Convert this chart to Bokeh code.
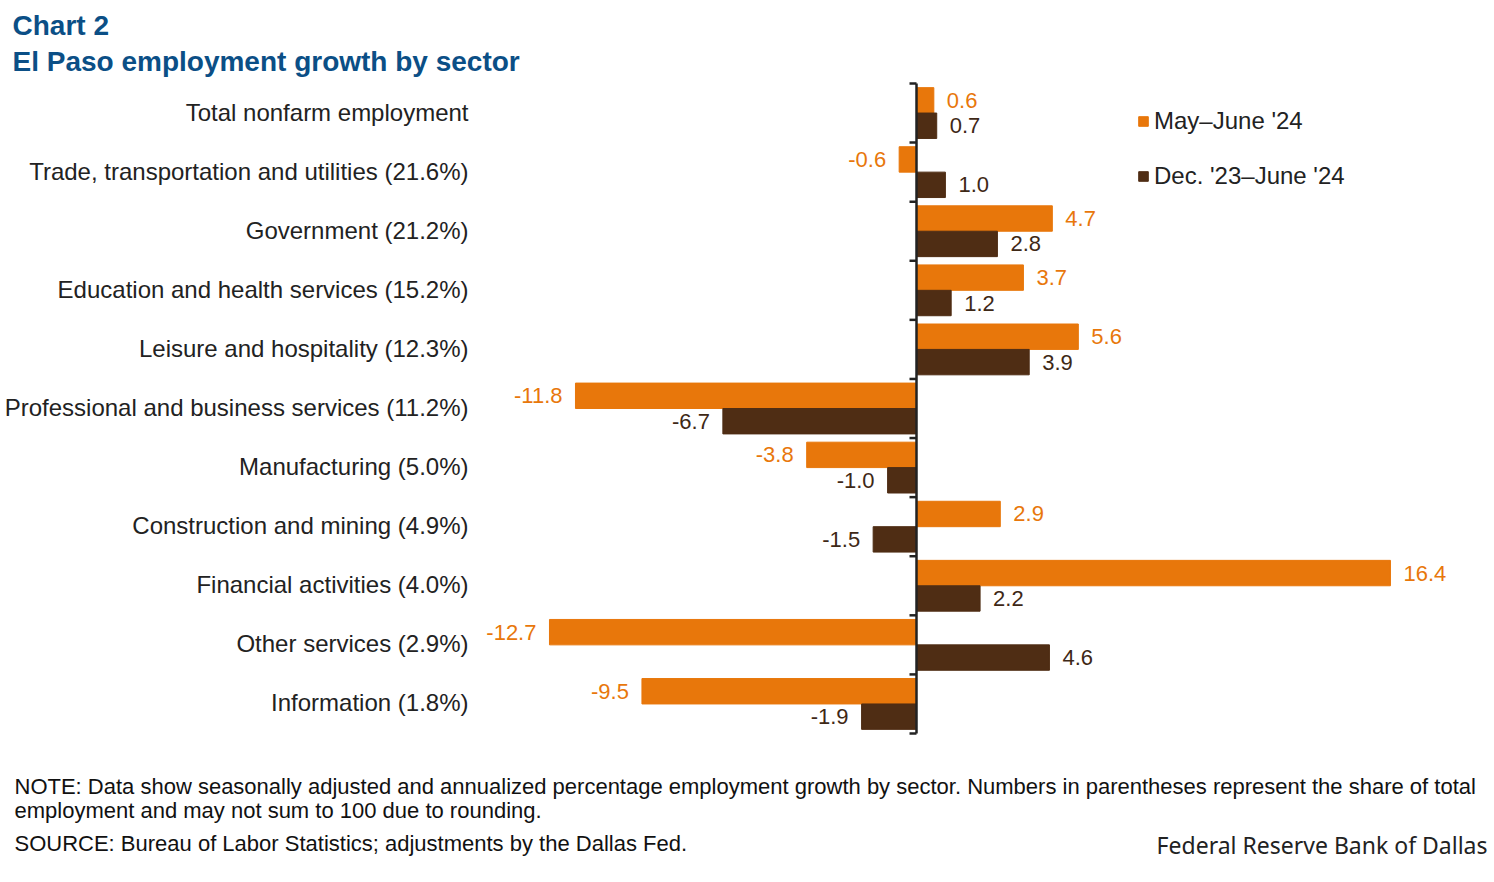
from bokeh.plotting import figure
from bokeh.models import ColumnDataSource, Range1d, Legend, LegendItem
from bokeh.core.properties import value
from bokeh.transform import dodge
from bokeh.embed import file_html
from bokeh.resources import INLINE

categories = [
    "Total nonfarm employment",
    "Trade, transportation and utilities (21.6%)",
    "Government (21.2%)",
    "Education and health services (15.2%)",
    "Leisure and hospitality (12.3%)",
    "Professional and business services (11.2%)",
    "Manufacturing (5.0%)",
    "Construction and mining (4.9%)",
    "Financial activities (4.0%)",
    "Other services (2.9%)",
    "Information (1.8%)",
]
may_june_24 = [0.6, -0.6, 4.7, 3.7, 5.6, -11.8, -3.8, 2.9, 16.4, -12.7, -9.5]
dec23_june24 = [0.7, 1.0, 2.8, 1.2, 3.9, -6.7, -1.0, -1.5, 2.2, 4.6, -1.9]
series_names = ["May\u2013June '24", "Dec. '23\u2013June '24"]

ORANGE = "#E8770B"
BROWN = "#4F2D14"
BROWN_TXT = "#3E2816"
TXT = "#222222"
BLUE = "#0B4F86"
FONT = "Liberation Sans"

W, H = 1494, 882
TOP, BOTTOM = 83, 733          # pixel extent of the category band area
ZERO_PX = 916                  # pixel position of the zero line
PX_PER_UNIT = 28.9
N = len(categories)
BAND = (BOTTOM - TOP) / N

def dx(px):   # canvas px -> data x
    return (px - ZERO_PX) / PX_PER_UNIT

def dy(py):   # canvas px -> data y
    return (py - TOP) / BAND

p = figure(width=W, height=H, output_backend="svg", toolbar_location=None,
           x_range=Range1d(dx(0), dx(W)), y_range=Range1d(dy(H), dy(0)),
           x_axis_location=None, y_axis_location=None,
           min_border=0, min_border_left=0, min_border_right=0,
           min_border_top=0, min_border_bottom=0)
p.outline_line_color = None
p.grid.visible = False
p.background_fill_color = "white"
p.border_fill_color = "white"

pos = [i + 0.5 for i in range(N)]
bar_h = 0.43

def src(vals):
    return ColumnDataSource(dict(
        y=pos, v=vals, zero=[0] * N,
        t=["%.1f" % v for v in vals],
        align=["left" if v >= 0 else "right" for v in vals],
        off=[13 if v >= 0 else -13 for v in vals],
    ))

s1 = src(may_june_24)
s2 = src(dec23_june24)

r1 = p.hbar(y=dodge("y", -bar_h / 2, range=p.y_range), left="zero", right="v",
            height=bar_h, color=ORANGE, source=s1)
r2 = p.hbar(y=dodge("y", bar_h / 2, range=p.y_range), left="zero", right="v",
            height=bar_h, color=BROWN, source=s2)

for s, c, d in ((s1, ORANGE, -bar_h / 2), (s2, BROWN_TXT, bar_h / 2)):
    p.text(x="v", y=dodge("y", d, range=p.y_range), text="t", source=s,
           text_align="align", x_offset="off", text_baseline="middle",
           text_color=c, text_font_size="22px", text_font=value(FONT))

# zero axis with tick marks between categories
bounds = list(range(N + 1))
p.segment(x0=[0], x1=[0], y0=[0], y1=[N], line_color=TXT, line_width=2.5)
tick_len = 7 / PX_PER_UNIT
p.segment(x0=[0] * len(bounds), x1=[-tick_len] * len(bounds), y0=bounds, y1=bounds,
          line_color=TXT, line_width=2.5)

# category labels
cat_src = ColumnDataSource(dict(y=pos, c=categories, x=[dx(468)] * N))
p.text(x="x", y="y", text="c", source=cat_src, text_align="right",
       text_baseline="middle", text_color=TXT, text_font_size="24px",
       text_font=value(FONT), y_offset=-1)

legend = Legend(items=[LegendItem(label=series_names[0], renderers=[r1]),
                       LegendItem(label=series_names[1], renderers=[r2])],
                location=(1137, H - 190),
                glyph_width=12, glyph_height=12, label_height=24, spacing=27,
                label_standoff=5, padding=0, margin=0,
                border_line_alpha=0, background_fill_alpha=0,
                label_text_font=FONT, label_text_font_size="24px",
                label_text_color=TXT)
p.add_layout(legend, "center")

def lab(text, px, py, size, font=FONT, style="normal", color=TXT, align="left"):
    p.text(x=[dx(px)], y=[dy(py)], text=[text], text_font=value(font),
           text_font_size=size, text_font_style=style, text_color=color,
           text_align=align, text_baseline="middle")

lab("Chart 2", 12, 25, "28px", style="bold", color=BLUE)
lab("El Paso employment growth by sector", 12, 61, "28px", style="bold", color=BLUE)
lab("NOTE: Data show seasonally adjusted and annualized percentage employment growth by sector. "
    "Numbers in parentheses represent the share of total", 14, 786, "22px",
    color="#111111")
lab("employment and may not sum to 100 due to rounding.", 14, 810, "22px",
    color="#111111")
lab("SOURCE: Bureau of Labor Statistics; adjustments by the Dallas Fed.", 14, 843, "22px",
    color="#111111")
lab("Federal Reserve Bank of Dallas", 1487, 844, "23px", font="Noto Sans",
    color=TXT, align="right")

open("out.html", "w").write(file_html(p, INLINE))
